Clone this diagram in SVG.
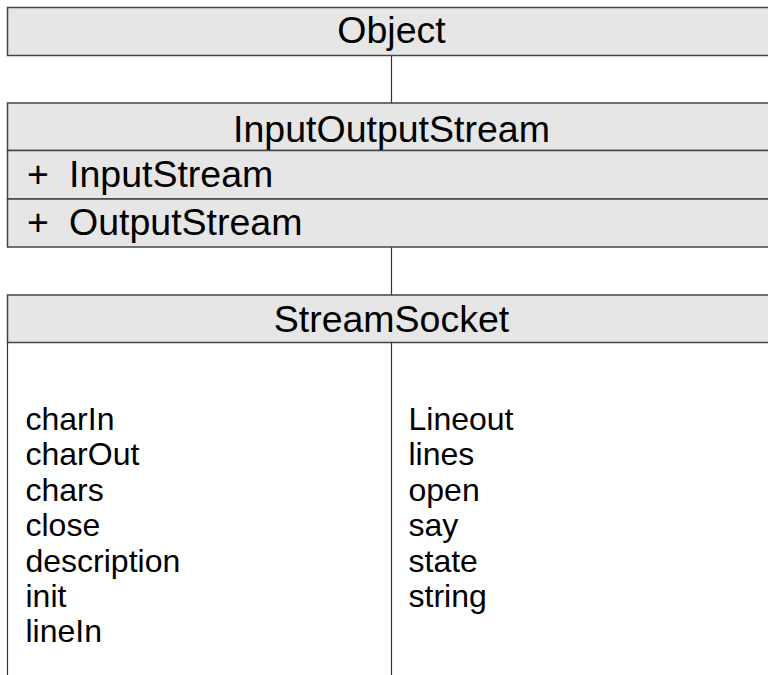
<svg xmlns="http://www.w3.org/2000/svg" width="768" height="675" viewBox="0 0 768 675">
<style>
.box{fill:#e6e6e6;stroke:#444;stroke-width:1.5}
.ln{stroke:#333;stroke-width:1.2;fill:none}
.h{font-family:"Liberation Sans",Arial,sans-serif;font-size:37.5px;fill:#000;text-anchor:middle}
.r{font-family:"Liberation Sans",Arial,sans-serif;font-size:37.5px;fill:#000}
.b{font-family:"Liberation Sans",Arial,sans-serif;font-size:32px;fill:#000}
</style>
<rect width="768" height="675" fill="#fff"/>
<g id="connectors">
<line class="ln" x1="391.5" y1="55.5" x2="391.5" y2="103"/>
<line class="ln" x1="391.5" y1="247" x2="391.5" y2="295"/>
</g>
<g id="Object">
<rect class="box" x="7.5" y="7.5" width="768" height="48"/>
<text class="h" x="391.5" y="43.3">Object</text>
</g>
<g id="InputOutputStream">
<rect class="box" x="7.5" y="103" width="768" height="47.5"/>
<text class="h" x="391.5" y="141.7">InputOutputStream</text>
<rect class="box" x="7.5" y="150.5" width="768" height="48.5"/>
<text class="r"><tspan x="27" y="186.7">+</tspan> <tspan x="69" y="186.7">InputStream</tspan></text>
<rect class="box" x="7.5" y="199" width="768" height="48"/>
<text class="r"><tspan x="27" y="235">+</tspan> <tspan x="69" y="235">OutputStream</tspan></text>
</g>
<g id="StreamSocket">
<rect class="box" x="7.5" y="295" width="768" height="47.5"/>
<text class="h" x="391.5" y="331.7">StreamSocket</text>
<path class="ln" d="M7.5 342.5V680M391.5 342.5V680"/>
<text class="b" x="25.5"><tspan x="25.5" y="430">charIn</tspan><tspan x="25.5" y="465.4">charOut</tspan><tspan x="25.5" y="500.8">chars</tspan><tspan x="25.5" y="536.2">close</tspan><tspan x="25.5" y="571.6">description</tspan><tspan x="25.5" y="607">init</tspan><tspan x="25.5" y="642.4">lineIn</tspan></text>
<text class="b" x="408.5"><tspan x="408.5" y="430">Lineout</tspan><tspan x="408.5" y="465.4">lines</tspan><tspan x="408.5" y="500.8">open</tspan><tspan x="408.5" y="536.2">say</tspan><tspan x="408.5" y="571.6">state</tspan><tspan x="408.5" y="607">string</tspan></text>
</g>
</svg>
